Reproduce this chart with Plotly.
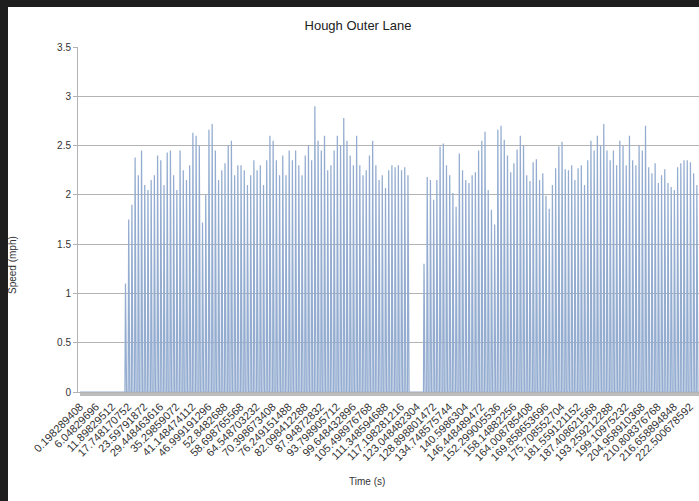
import numpy as np
import plotly.graph_objects as go

# Category labels (time, s) shown every 30th sample
time_labels = [
    "0.198289408", "6.04829696", "11.89829512", "17.748170752", "23.59791872",
    "29.448463616", "35.29859072", "41.148474112", "46.999191296", "52.8482688",
    "58.698765568", "64.548703232", "70.398673408", "76.249151488", "82.098412288",
    "87.94872832", "93.798905712", "99.648432896", "105.498976768", "111.348594688",
    "117.198281216", "123.048482304", "128.898801472", "134.748575744", "140.5986304",
    "146.448489472", "152.299005536", "158.14882256", "164.008785408", "169.858653696",
    "175.708552704", "181.559121152", "187.408621568", "193.259212288", "199.10975232",
    "204.958910368", "210.808376768", "216.658894848", "222.500678592",
]

# Peak speed (mph) of each wheel pulse, first run
peaks_run1 = [
    1.10, 1.75, 1.90, 2.38, 2.20, 2.45, 2.10, 2.05, 2.15, 2.20,
    2.40, 2.35, 2.10, 2.43, 2.45, 2.20, 2.05, 2.45, 2.25, 2.15,
    2.30, 2.63, 2.60, 2.50, 1.72, 2.00, 2.66, 2.72, 2.45, 2.15,
    2.25, 2.32, 2.50, 2.55, 2.20, 2.30, 2.30, 2.25, 2.10, 2.20,
    2.35, 2.25, 2.30, 2.10, 2.35, 2.60, 2.55, 2.35, 2.20, 2.40,
    2.20, 2.45, 2.35, 2.45, 2.30, 2.20, 2.40, 2.50, 2.35, 2.90,
    2.55, 2.45, 2.60, 2.25, 2.30, 2.45, 2.60, 2.50, 2.78, 2.55,
    2.40, 2.30, 2.60, 2.30, 2.20, 2.25, 2.40, 2.55, 2.30, 2.15,
    2.20, 2.07, 2.25, 2.30, 2.28, 2.30, 2.25, 2.28, 2.20,
]

# Peak speed (mph) of each wheel pulse, second run
peaks_run2 = [
    1.30, 2.18, 2.15, 1.95, 2.15, 2.49, 2.52, 2.30, 2.20, 2.02,
    1.88, 2.42, 2.25, 2.15, 2.12, 2.20, 2.23, 2.45, 2.55, 2.64,
    2.05, 1.85, 1.70, 2.66, 2.70, 2.56, 2.40, 2.23, 2.32, 2.46,
    2.60, 2.50, 2.20, 2.14, 2.33, 2.36, 2.15, 2.22, 1.99, 1.86,
    2.10, 2.27, 2.49, 2.54, 2.26, 2.25, 2.30, 2.15, 2.27, 2.30,
    2.10, 2.35, 2.55, 2.45, 2.60, 2.50, 2.72, 2.45, 2.35, 2.45,
    2.30, 2.55, 2.50, 2.30, 2.60, 2.35, 2.30, 2.50, 2.45, 2.70,
    2.28, 2.22, 2.32, 2.12, 2.20, 2.26, 2.12, 2.08, 2.05, 2.28,
    2.32, 2.35, 2.35, 2.33, 2.22, 2.10,
]

idle_before = [0.0] * 14   # stationary pulses before the first run
idle_between = [0.0] * 4   # stationary pulses between runs

LABEL_EVERY = 30

pulses = idle_before + peaks_run1 + idle_between + peaks_run2
speed = []
for p in pulses:
    speed.extend([0.0, p, 0.0, 0.0, 0.0, 0.0])
idx = np.arange(len(speed))

ticktext = [time_labels[i // LABEL_EVERY] if i % LABEL_EVERY == 0 and i // LABEL_EVERY < len(time_labels) else ""
            for i in idx]

W, H = 699, 501
L, R, T, B = 78, 0, 47, 109
PW, PH = W - L - R, H - T - B

def px(x):
    return (x - L) / PW

def py(y):
    return (H - B - y) / PH

fig = go.Figure()
fig.add_trace(go.Scatter(
    x=idx, y=speed, mode="lines",
    line=dict(color="#93acd0", width=1.25),
    hoverinfo="skip", showlegend=False,
))

grid = "#b3b3b3"
fig.update_layout(
    width=W, height=H,
    margin=dict(l=L, r=R, t=T, b=B),
    paper_bgcolor="white", plot_bgcolor="white",
    font=dict(family="Liberation Sans, Arial, sans-serif", color="#333333", size=10),
    title=dict(text="Hough Outer Lane", x=358 / W, xref="container", xanchor="center",
               y=1 - 25 / H, yref="container", yanchor="middle",
               font=dict(size=13, color="#222222")),
    xaxis=dict(
        range=[-3.74, (W - R - 80) / 0.535],
        tickmode="array", tickvals=idx, ticktext=ticktext,
        tickangle=-45, ticks="outside", ticklen=3, tickcolor="#bdbdbd", tickwidth=1,
        showgrid=False, zeroline=False,
        showline=True, linecolor=grid, linewidth=1,
        tickfont=dict(size=11, color="#333333"),
    ),
    yaxis=dict(
        range=[0, 3.5], dtick=0.5, tick0=0,
        ticks="outside", ticklen=4, tickcolor=grid,
        showgrid=True, gridcolor=grid, gridwidth=1,
        zeroline=False, showline=True, linecolor=grid, linewidth=1,
        tickfont=dict(size=10, color="#333333"),
    ),
    annotations=[
        dict(text="Speed (mph)", textangle=-90, x=px(12), y=py(265), xref="paper", yref="paper",
             xanchor="center", yanchor="middle",
             showarrow=False, font=dict(size=10, color="#333333")),
        dict(text="Time (s)", x=px(367), y=py(481), xref="paper", yref="paper",
             xanchor="center", yanchor="middle",
             showarrow=False, font=dict(size=10, color="#333333")),
    ],
    shapes=[
        dict(type="rect", xref="paper", yref="paper", x0=px(0), x1=px(8), y0=py(H), y1=py(0),
             fillcolor="#1e1e1e", line=dict(width=0), layer="above"),
        dict(type="rect", xref="paper", yref="paper", x0=px(0), x1=px(W), y0=py(7), y1=py(0),
             fillcolor="#1e1e1e", line=dict(width=0), layer="above"),
    ],
)

fig.write_html("out.html")
